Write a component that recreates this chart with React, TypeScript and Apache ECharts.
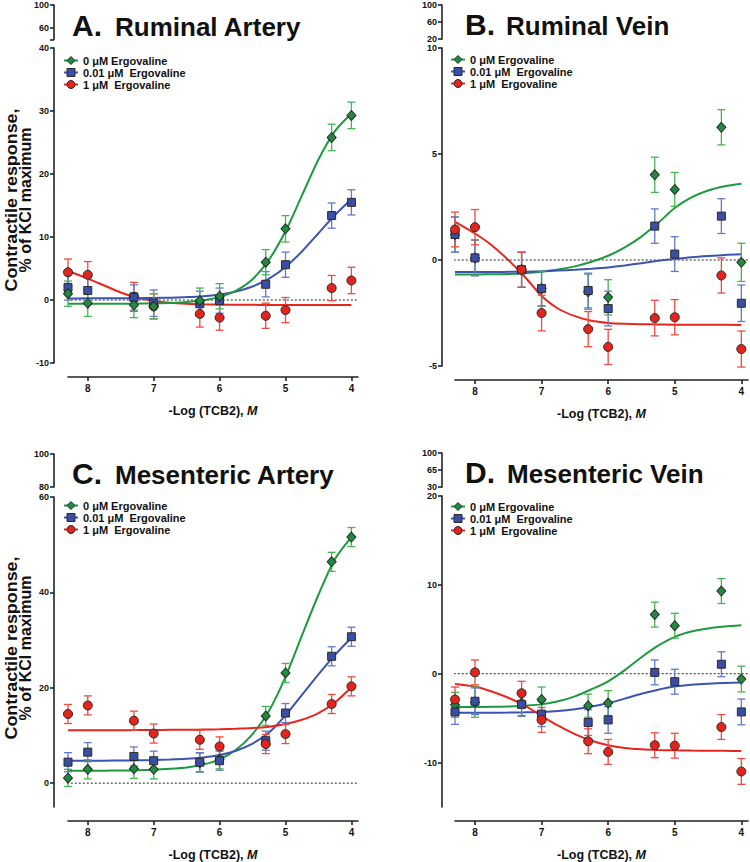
import React, { useEffect, useRef } from "react";
import * as echarts from "echarts";

const FONT = '"Liberation Sans", Arial, Helvetica, sans-serif';
const TEXT = "#111111";
const AXIS = "#222222";

// ---------- shared x data ----------
const X_TICKS = [8, 7, 6, 5, 4];
const X_RANGE = [3.9, 8.3];
const X_DOSES = [8.3, 8, 7.3, 7, 6.3, 6, 5.3, 5, 4.3, 4];
const FIT_X = [8.3, 8, 7.75, 7.5, 7.25, 7, 6.75, 6.5, 6.25, 6, 5.75, 5.5, 5.25, 5, 4.75, 4.5, 4.25, 4];
const ZERO_LINE_X = [8.5, 3.9];
const GROUPS = ["0 μM Ergovaline", "0.01 μM  Ergovaline", "1 μM  Ergovaline"];

// ---------- Panel A: Ruminal Artery ----------
const A_MEANS = [
  [1.0, -0.5, -0.8, -1.0, -0.1, 0.6, 6.0, 11.3, 25.8, 29.3],
  [2.0, 1.5, 0.4, -0.5, -0.6, -0.1, 2.5, 5.6, 13.4, 15.5],
  [4.4, 4.0, 0.5, -1.0, -2.2, -2.8, -2.5, -1.6, 1.9, 3.1],
];
const A_SEMS = [
  [2.0, 2.1, 2.0, 2.0, 2.0, 2.0, 2.0, 2.1, 2.1, 2.1],
  [2.0, 2.0, 2.0, 2.1, 2.0, 2.0, 2.0, 2.0, 2.0, 2.0],
  [2.1, 2.1, 2.3, 2.0, 2.1, 2.0, 2.0, 2.0, 2.0, 2.1],
];
const A_FITS = [
  [-0.6, -0.6, -0.6, -0.58, -0.57, -0.53, -0.46, -0.33, -0.05, 0.5, 1.5, 3.3, 6.4, 10.9, 16.6, 22.3, 26.8, 29.6],
  [0.25, 0.26, 0.26, 0.27, 0.29, 0.32, 0.37, 0.46, 0.61, 0.89, 1.35, 2.14, 3.38, 5.24, 7.71, 10.6, 13.5, 16.0],
  [4.6, 3.4, 2.3, 1.2, 0.35, -0.15, -0.45, -0.6, -0.68, -0.72, -0.75, -0.77, -0.78, -0.79, -0.8, -0.8, -0.8, -0.8],
];
const A_Y_RANGE = [-10, 40];
const A_Y_TICKS = [-10, 0, 10, 20, 30, 40];
const A_BREAK_RANGE = [40, 100];
const A_BREAK_TICKS = [40, 60, 100];
const A_BREAK_LABELS = [60, 100];

// ---------- Panel B: Ruminal Vein ----------
const B_MEANS = [
  [1.2, 0.1, -0.46, -1.35, -1.5, -1.76, 4.02, 3.33, 6.26, -0.11],
  [1.2, 0.1, -0.46, -1.35, -1.44, -2.29, 1.6, 0.28, 2.07, -2.04],
  [1.44, 1.55, -0.46, -2.5, -3.26, -4.1, -2.74, -2.7, -0.73, -4.2],
];
const B_SEMS = [
  [0.83, 0.83, 0.83, 0.83, 0.83, 0.83, 0.83, 0.8, 0.83, 0.9],
  [0.83, 0.85, 0.82, 0.81, 0.82, 0.82, 0.81, 0.82, 0.82, 0.86],
  [0.82, 0.83, 0.83, 0.84, 0.83, 0.83, 0.84, 0.83, 0.83, 0.85],
];
const B_FITS = [
  [-0.68, -0.68, -0.67, -0.66, -0.62, -0.55, -0.45, -0.3, -0.08, 0.2, 0.6, 1.1, 1.75, 2.45, 2.95, 3.28, 3.48, 3.6],
  [-0.57, -0.57, -0.57, -0.56, -0.55, -0.53, -0.5, -0.46, -0.41, -0.35, -0.26, -0.15, -0.04, 0.05, 0.13, 0.19, 0.24, 0.27],
  [1.8, 1.25, 0.7, 0.0, -0.8, -1.7, -2.3, -2.65, -2.87, -2.97, -3.01, -3.03, -3.04, -3.05, -3.05, -3.06, -3.06, -3.07],
];
const B_Y_RANGE = [-5, 10];
const B_Y_TICKS = [-5, 0, 5, 10];
const B_BREAK_RANGE = [20, 100];
const B_BREAK_TICKS = [20, 60, 100];
const B_BREAK_LABELS = [20, 60, 100];

// ---------- Panel C: Mesenteric Artery ----------
const C_MEANS = [
  [1.1, 2.9, 3.0, 2.9, 4.3, 5.0, 14.1, 23.1, 46.4, 51.6],
  [4.4, 6.5, 5.6, 4.7, 4.4, 4.7, 8.9, 14.7, 26.6, 30.7],
  [14.5, 16.3, 13.1, 10.4, 9.1, 7.7, 8.2, 10.3, 16.6, 20.3],
];
const C_SEMS = [
  [1.8, 2.0, 2.0, 2.0, 2.0, 2.0, 2.0, 2.0, 2.0, 2.0],
  [2.0, 2.0, 2.0, 2.0, 2.0, 2.0, 2.0, 2.0, 2.0, 2.0],
  [2.0, 2.0, 2.0, 2.0, 2.0, 2.0, 2.0, 2.0, 2.0, 2.0],
];
const C_FITS = [
  [2.6, 2.6, 2.62, 2.65, 2.7, 2.8, 3.0, 3.3, 3.9, 5.0, 7.0, 10.3, 15.2, 22.3, 31.0, 39.5, 47.0, 51.6],
  [4.7, 4.7, 4.72, 4.75, 4.8, 4.85, 4.95, 5.1, 5.4, 5.9, 6.8, 8.3, 10.6, 14.2, 18.5, 22.8, 26.9, 30.5],
  [11.1, 11.1, 11.1, 11.1, 11.12, 11.15, 11.18, 11.2, 11.25, 11.3, 11.4, 11.55, 11.85, 12.4, 13.3, 14.7, 16.9, 20.1],
];
const C_Y_RANGE = [-5, 60];
const C_Y_TICKS = [0, 20, 40, 60];
const C_BREAK_RANGE = [80, 100];
const C_BREAK_TICKS = [80, 100];
const C_BREAK_LABELS = [80, 100];

// ---------- Panel D: Mesenteric Vein ----------
const D_MEANS = [
  [-3.5, -3.2, -3.3, -2.9, -3.6, -3.3, 6.65, 5.4, 9.3, -0.6],
  [-4.3, -3.1, -3.45, -4.55, -5.5, -5.2, 0.15, -0.9, 1.07, -4.3],
  [-2.9, 0.15, -2.2, -5.2, -7.6, -8.8, -8.05, -8.1, -6.0, -11.0],
];
const D_SEMS = [
  [1.4, 1.7, 1.4, 1.4, 1.3, 1.4, 1.4, 1.4, 1.4, 1.45],
  [1.4, 1.5, 1.35, 1.4, 1.45, 1.5, 1.4, 1.4, 1.4, 1.45],
  [1.4, 1.4, 1.35, 1.4, 1.4, 1.4, 1.4, 1.4, 1.4, 1.45],
];
const D_FITS = [
  [-3.75, -3.75, -3.73, -3.7, -3.6, -3.45, -3.1, -2.55, -1.75, -0.85, 0.4, 1.85, 3.15, 4.15, 4.75, 5.1, 5.3, 5.45],
  [-4.4, -4.4, -4.39, -4.37, -4.34, -4.3, -4.2, -4.0, -3.7, -3.3, -2.8, -2.25, -1.8, -1.45, -1.25, -1.13, -1.05, -1.0],
  [-1.15, -1.45, -2.0, -2.7, -3.6, -4.75, -5.85, -6.8, -7.55, -8.05, -8.35, -8.5, -8.58, -8.62, -8.65, -8.67, -8.68, -8.7],
];
const D_Y_RANGE = [-15, 20];
const D_Y_TICKS = [-10, 0, 10, 20];
const D_BREAK_RANGE = [30, 100];
const D_BREAK_TICKS = [30, 65, 100];
const D_BREAK_LABELS = [30, 65, 100];

// ---------- styles ----------
const LINE_COLORS = ["#1d9a3e", "#3b54b0", "#e8261d"];
const FILL_COLORS = ["#1f8c3d", "#3a4ea6", "#e3231c"];
const ERR_COLORS = ["#46b550", "#6478cc", "#ef4b3f"];
const SYMBOLS = ["diamond", "rect", "circle"];
const SYMBOL_SIZES: any[] = [[9, 10], 8, 9];

const PANELS = [
  {
    letter: "A.", title: "Ruminal Artery",
    means: A_MEANS, sems: A_SEMS, fits: A_FITS,
    yRange: A_Y_RANGE, yTicks: A_Y_TICKS, bRange: A_BREAK_RANGE, bTicks: A_BREAK_TICKS, bLabels: A_BREAK_LABELS,
    order: [2, 1, 0],
    layout: { left: 68, width: 290, yOffset: 14, mainTop: 48, mainHeight: 315, breakTop: 5, breakHeight: 34.5,
      letterX: 72, nameX: 115, baseline: 36, legendLeft: 63, legendTop: 55, yTitleY: 200 },
  },
  {
    letter: "B.", title: "Ruminal Vein",
    means: B_MEANS, sems: B_SEMS, fits: B_FITS,
    yRange: B_Y_RANGE, yTicks: B_Y_TICKS, bRange: B_BREAK_RANGE, bTicks: B_BREAK_TICKS, bLabels: B_BREAK_LABELS,
    order: [0, 1, 2],
    layout: { left: 455, width: 293, yOffset: 13, mainTop: 48, mainHeight: 318, breakTop: 5, breakHeight: 34,
      letterX: 465, nameX: 506, baseline: 35, legendLeft: 450, legendTop: 54, yTitleY: null },
  },
  {
    letter: "C.", title: "Mesenteric Artery",
    means: C_MEANS, sems: C_SEMS, fits: C_FITS,
    yRange: C_Y_RANGE, yTicks: C_Y_TICKS, bRange: C_BREAK_RANGE, bTicks: C_BREAK_TICKS, bLabels: C_BREAK_LABELS,
    order: [0, 1, 2],
    layout: { left: 68, width: 290, yOffset: 14, mainTop: 497, mainHeight: 314, breakTop: 454, breakHeight: 33,
      letterX: 72, nameX: 115, baseline: 484, legendLeft: 63, legendTop: 500, yTitleY: 648 },
  },
  {
    letter: "D.", title: "Mesenteric Vein",
    means: D_MEANS, sems: D_SEMS, fits: D_FITS,
    yRange: D_Y_RANGE, yTicks: D_Y_TICKS, bRange: D_BREAK_RANGE, bTicks: D_BREAK_TICKS, bLabels: D_BREAK_LABELS,
    order: [0, 1, 2],
    layout: { left: 455, width: 293, yOffset: 13, mainTop: 496, mainHeight: 317, breakTop: 453, breakHeight: 34,
      letterX: 465, nameX: 507, baseline: 483, legendLeft: 450, legendTop: 501, yTitleY: null },
  },
];

function axisLineStyle() {
  return { color: AXIS, width: 1.6 };
}

function buildOption() {
  const grid: any[] = [];
  const xAxis: any[] = [];
  const yAxis: any[] = [];
  const series: any[] = [];
  const legend: any[] = [];
  const graphic: any[] = [];

  PANELS.forEach((p, pi) => {
    const L = p.layout;
    const gi = pi * 2;
    grid.push({ left: L.left, top: L.mainTop, width: L.width, height: L.mainHeight });
    grid.push({ left: L.left, top: L.breakTop, width: L.width, height: L.breakHeight });

    xAxis.push({
      gridIndex: gi, type: "value", inverse: true, min: X_RANGE[0], max: X_RANGE[1],
      position: "bottom", offset: 14,
      axisLine: { show: true, onZero: false, lineStyle: axisLineStyle() },
      axisTick: { show: true, customValues: X_TICKS, length: 4, lineStyle: axisLineStyle() },
      axisLabel: { show: true, customValues: X_TICKS, fontSize: 10, fontWeight: "bold", color: TEXT, margin: 6, fontFamily: FONT },
      splitLine: { show: false },
      name: "{a|-Log (TCB2), }{b|M}",
      nameLocation: "middle", nameGap: 27,
      nameTextStyle: {
        rich: {
          a: { fontSize: 12.5, fontWeight: "bold", color: TEXT, fontFamily: FONT },
          b: { fontSize: 12.5, fontWeight: "bold", fontStyle: "italic", color: TEXT, fontFamily: FONT },
        },
      },
    });
    xAxis.push({ gridIndex: gi + 1, type: "value", show: false, inverse: true, min: X_RANGE[0], max: X_RANGE[1] });

    const yCommon = (range: number[], ticks: number[], labels: number[]) => ({
      type: "value", min: range[0], max: range[1], offset: L.yOffset, position: "left",
      axisLine: { show: true, onZero: false, lineStyle: axisLineStyle() },
      axisTick: { show: true, customValues: ticks, length: 4, lineStyle: axisLineStyle() },
      axisLabel: { show: true, customValues: labels, fontSize: 9, fontWeight: "bold", color: TEXT, margin: 5, fontFamily: FONT },
      splitLine: { show: false },
    });
    yAxis.push({ gridIndex: gi, ...yCommon(p.yRange, p.yTicks, p.yTicks) });
    yAxis.push({ gridIndex: gi + 1, ...yCommon(p.bRange, p.bTicks, p.bLabels) });

    // zero reference line
    series.push({
      type: "line", name: `zero-${pi}`, xAxisIndex: gi, yAxisIndex: gi,
      data: ZERO_LINE_X.map((x) => [x, 0]), symbol: "none", silent: true, clip: false, z: 1,
      lineStyle: { color: AXIS, width: 1, type: [2, 2] },
    });

    // fitted curves
    p.order.forEach((g) => {
      series.push({
        type: "line", name: `fit-${pi}-${g}`, xAxisIndex: gi, yAxisIndex: gi,
        data: FIT_X.map((x, i) => [x, p.fits[g][i]]),
        smooth: 0.25, symbol: "none", showSymbol: false, silent: true, clip: false, z: 2,
        lineStyle: { color: LINE_COLORS[g], width: 2 },
      });
    });

    // error bars
    p.order.forEach((g) => {
      const col = ERR_COLORS[g];
      series.push({
        type: "custom", name: `err-${pi}-${g}`, xAxisIndex: gi, yAxisIndex: gi, silent: true, clip: false, z: 3,
        data: X_DOSES.map((x, i) => [x, p.means[g][i] - p.sems[g][i], p.means[g][i] + p.sems[g][i]]),
        encode: { x: 0, y: [1, 2] },
        renderItem: (params: any, api: any) => {
          const x = api.value(0);
          const lo = api.coord([x, api.value(1)]);
          const hi = api.coord([x, api.value(2)]);
          const w = 4;
          const st = { stroke: col, lineWidth: 1.3 };
          return {
            type: "group",
            children: [
              { type: "line", shape: { x1: lo[0], y1: lo[1], x2: hi[0], y2: hi[1] }, style: st },
              { type: "line", shape: { x1: lo[0] - w, y1: lo[1], x2: lo[0] + w, y2: lo[1] }, style: st },
              { type: "line", shape: { x1: hi[0] - w, y1: hi[1], x2: hi[0] + w, y2: hi[1] }, style: st },
            ],
          };
        },
      });
    });

    // data points
    p.order.forEach((g) => {
      series.push({
        type: "line", name: GROUPS[g], xAxisIndex: gi, yAxisIndex: gi,
        data: X_DOSES.map((x, i) => [x, p.means[g][i]]),
        symbol: SYMBOLS[g], symbolSize: SYMBOL_SIZES[g], showSymbol: true, showAllSymbol: true,
        silent: true, clip: false, z: 4,
        lineStyle: { color: LINE_COLORS[g], width: 2, opacity: 0 },
        itemStyle: { color: FILL_COLORS[g], borderColor: "#2a2a2a", borderWidth: 1 },
      });
    });

    legend.push({
      orient: "vertical", left: L.legendLeft, top: L.legendTop, padding: 0,
      itemWidth: 14, itemHeight: 10, itemGap: 1, selectedMode: false,
      data: GROUPS.map((name) => ({ name })),
      textStyle: { fontSize: 11, fontWeight: "bold", color: TEXT, fontFamily: FONT },
      lineStyle: { width: 2, opacity: 1 },
      itemStyle: { borderWidth: 1, borderColor: "#2a2a2a" },
    });

    graphic.push({
      type: "text", x: L.letterX, y: L.baseline - 10.5, silent: true,
      style: { text: p.letter, fontSize: 30, fontWeight: "bold", fontFamily: FONT, fill: TEXT, align: "left", verticalAlign: "middle" },
    });
    graphic.push({
      type: "text", x: L.nameX, y: L.baseline - 9.1, silent: true,
      style: { text: p.title, fontSize: 26, fontWeight: "bold", fontFamily: FONT, fill: TEXT, align: "left", verticalAlign: "middle" },
    });
    if (L.yTitleY != null) {
      graphic.push({
        type: "text", x: 12, y: L.yTitleY, rotation: Math.PI / 2, scaleX: 1.12, silent: true,
        style: { text: "Contractile response,", fontSize: 16, fontWeight: "bold", fontFamily: FONT, fill: TEXT, align: "center", verticalAlign: "middle" },
      });
      graphic.push({
        type: "text", x: 25, y: L.yTitleY, rotation: Math.PI / 2, silent: true,
        style: { text: "% of KCl maximum", fontSize: 16, fontWeight: "bold", fontFamily: FONT, fill: TEXT, align: "center", verticalAlign: "middle" },
      });
    }
  });

  return {
    animation: false,
    backgroundColor: "#ffffff",
    textStyle: { fontFamily: FONT },
    grid, xAxis, yAxis, series, legend, graphic,
  };
}

export default function App() {
  const ref = useRef<HTMLDivElement | null>(null);
  useEffect(() => {
    if (!ref.current) return;
    const chart = echarts.init(ref.current, null, { renderer: "svg", width: 750, height: 862 });
    chart.setOption(buildOption() as any);
    return () => chart.dispose();
  }, []);
  return (
    <div
      ref={ref}
      style={{ position: "absolute", left: 0, top: 0, width: 750, height: 862, background: "#fff" }}
    />
  );
}
